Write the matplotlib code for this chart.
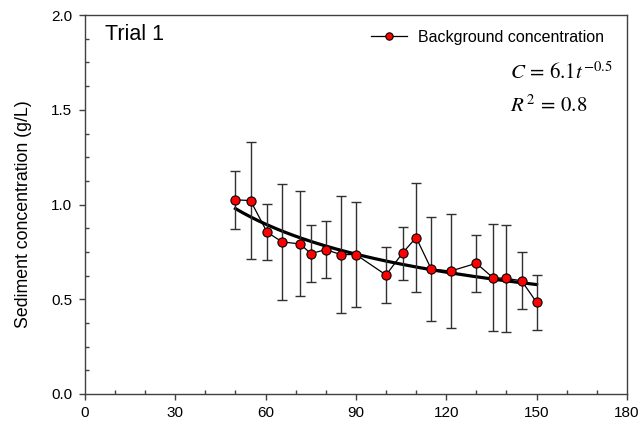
import numpy as np
import matplotlib
matplotlib.use("Agg")
import matplotlib.pyplot as plt
from matplotlib.ticker import MultipleLocator

plt.rcParams['font.family'] = ['Liberation Sans', 'DejaVu Sans']
plt.rcParams['mathtext.fontset'] = 'stix'

# data
time_min = [50, 55, 60.5, 65.5, 71.5, 75, 80, 85, 90, 100, 105.5, 110,
            115, 121.5, 130, 135.5, 140, 145, 150]
conc = [1.025, 1.021, 0.854, 0.803, 0.792, 0.741, 0.762, 0.736, 0.736, 0.628,
        0.744, 0.826, 0.660, 0.649, 0.690, 0.614, 0.610, 0.598, 0.484]
conc_err = [0.152, 0.308, 0.149, 0.306, 0.277, 0.152, 0.150, 0.308, 0.279, 0.148,
            0.140, 0.289, 0.274, 0.300, 0.149, 0.283, 0.281, 0.150, 0.145]

# power-law fit curve as drawn
fit_a = 6.4
fit_b = -0.48

fig = plt.figure(figsize=(6.43, 4.32), dpi=100)
ax = fig.add_axes([0.132, 0.088, 0.843, 0.877])

tt = np.linspace(min(time_min), max(time_min), 200)
ax.plot(tt, fit_a * tt ** fit_b, color='black', lw=2.3, zorder=2)

ax.errorbar(time_min, conc, yerr=conc_err, fmt='none', ecolor='#303030',
            elinewidth=1.0, capsize=3.9, capthick=1.0, zorder=3)
ax.plot(time_min, conc, color='black', lw=0.9, marker='o', markersize=6.6,
        markerfacecolor='#ff0000', markeredgecolor='black', markeredgewidth=0.8,
        label='Background concentration', zorder=4)

ax.set_xlim(0, 180)
ax.set_ylim(0, 2.0)
ax.xaxis.set_major_locator(MultipleLocator(30))
ax.xaxis.set_minor_locator(MultipleLocator(10))
ax.yaxis.set_major_locator(MultipleLocator(0.5))
ax.yaxis.set_minor_locator(MultipleLocator(0.125))
ax.yaxis.set_major_formatter(plt.FormatStrFormatter('%.1f'))

ax.tick_params(which='major', direction='out', length=4, width=1.0,
               color='#404040', labelsize=11, pad=5)
ax.tick_params(which='minor', direction='in', length=3, width=1.0, color='#404040')
for s in ax.spines.values():
    s.set_color('#404040')
    s.set_linewidth(1.0)

ax.set_ylabel('Sediment concentration (g/L)', fontsize=12.8)
ax.yaxis.set_label_coords(-0.097, 0.475)

ax.text(0.037, 0.95, 'Trial 1', transform=ax.transAxes, fontsize=15.5,
        ha='left', va='center')

leg = ax.legend(loc='upper left', bbox_to_anchor=(0.528, 0.962), frameon=False,
                fontsize=11.5, handlelength=2.25, handletextpad=0.7,
                borderpad=0, borderaxespad=0, markerscale=0.8)

ax.text(0.784, 0.85, r'$C\,=\,6.1t^{-0.5}$', transform=ax.transAxes,
        fontsize=15, ha='left', va='center')
ax.text(0.784, 0.762, r'$R^{\,2}\,=\,0.8$', transform=ax.transAxes,
        fontsize=15, ha='left', va='center')

fig.savefig('out.png', dpi=100)
